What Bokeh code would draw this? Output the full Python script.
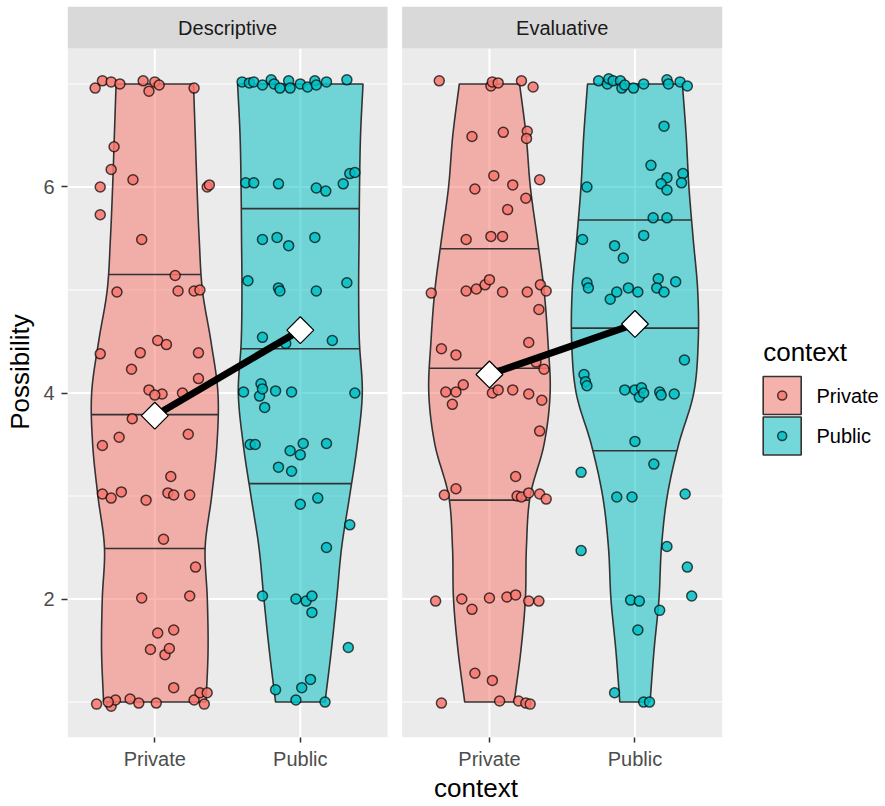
import numpy as np
from bokeh.plotting import figure
from bokeh.models import Range1d, FixedTicker
from bokeh.core.properties import value
from bokeh.embed import file_html
from bokeh.resources import INLINE

# ---------------- data ----------------
panels = ["Descriptive", "Evaluative"]
contexts = ["Private", "Public"]
fill_colors = ["#F8766D", "#00BFC4"]

# group means (diamonds)
desc_means = [3.78, 4.61]
eval_means = [4.18, 4.67]

# violin quantile lines (25%, 50%, 75%)
desc_private_q = [2.49, 3.79, 5.15]
desc_public_q = [3.12, 4.43, 5.79]
eval_private_q = [2.96, 4.24, 5.40]
eval_public_q = [3.44, 4.63, 5.68]

# violin half-widths (x units) at these response levels
violin_levels = [1.0, 1.5, 2.0, 2.5, 3.0, 3.5, 4.0, 4.5, 5.0, 5.5, 6.0, 6.5, 7.0]
desc_private_hw = [0.352, 0.366, 0.361, 0.346, 0.391, 0.427, 0.434, 0.386, 0.327, 0.305, 0.290, 0.278, 0.266]
desc_public_hw = [0.170, 0.213, 0.250, 0.284, 0.339, 0.392, 0.426, 0.406, 0.401, 0.404, 0.407, 0.414, 0.431]
eval_private_hw = [0.170, 0.216, 0.247, 0.254, 0.280, 0.375, 0.417, 0.402, 0.375, 0.329, 0.281, 0.252, 0.207]
eval_public_hw = [0.104, 0.131, 0.165, 0.182, 0.222, 0.300, 0.404, 0.435, 0.431, 0.400, 0.371, 0.352, 0.326]

# jittered points: horizontal jitter offset (x units) and response value
desc_private_jx = [-0.41, -0.36, -0.30, -0.24, -0.08, -0.04, 0.00, 0.03, 0.27,
                   -0.28, -0.30, -0.375, -0.15, 0.36, 0.375, -0.375, -0.09, 0.14, -0.26,
                   0.16, 0.27, 0.31, 0.02, 0.08, -0.375, -0.10, 0.30, -0.16,
                   -0.04, 0.05, 0.00, 0.19, 0.30, -0.155, -0.245, -0.36, 0.23, 0.11,
                   -0.36, -0.30, -0.23, -0.06, 0.09, 0.13, 0.24, 0.06, 0.28, -0.09,
                   0.24, 0.02, 0.13, -0.03, 0.07, 0.10, 0.13, -0.40, -0.30, -0.27,
                   -0.17, -0.11, 0.01, 0.27, 0.31, 0.36, 0.34, -0.32]
desc_private_y = [6.96, 7.03, 7.02, 7.00, 7.03, 6.93, 7.02, 6.99, 6.96,
                  6.39, 6.17, 6.00, 6.07, 6.00, 6.02, 5.73, 5.49, 5.14, 4.98,
                  4.99, 4.99, 5.00, 4.51, 4.47, 4.38, 4.39, 4.39, 4.23,
                  4.03, 3.99, 3.98, 4.00, 4.14, 3.75, 3.57, 3.49, 3.60, 3.19,
                  3.02, 2.98, 3.04, 2.96, 3.03, 3.01, 3.01, 2.58, 2.31, 2.01,
                  2.03, 1.67, 1.70, 1.51, 1.46, 1.52, 1.14, 0.98, 0.96, 1.02,
                  1.03, 0.99, 0.99, 1.02, 1.09, 1.09, 0.98, 1.00]

desc_public_jx = [-0.40, -0.35, -0.32, -0.26, -0.20, -0.18, -0.14, -0.08, -0.07, 0.00,
                  0.05, 0.10, 0.11, 0.18, 0.32,
                  -0.375, -0.32, -0.15, 0.11, 0.175, 0.295, 0.34, 0.375,
                  -0.26, -0.16, -0.08, 0.10, -0.36, -0.15, -0.14, 0.11, 0.32,
                  -0.26, -0.10, 0.22,
                  -0.39, -0.27, -0.28, -0.26, -0.245, -0.17, -0.06, 0.375,
                  -0.345, -0.31, -0.07, 0.00, 0.02, 0.18, -0.15, -0.06,
                  0.00, 0.12, 0.34, 0.18, -0.26, -0.03, 0.04, 0.08, 0.08,
                  0.33, -0.17, 0.01, 0.07, -0.03, 0.17]
desc_public_y = [7.02, 7.01, 7.02, 6.99, 7.04, 7.00, 6.96, 7.03, 6.96, 7.00,
                 6.97, 7.03, 6.99, 7.02, 7.04,
                 6.04, 6.04, 6.03, 5.99, 5.96, 6.03, 6.13, 6.14,
                 5.49, 5.51, 5.43, 5.51, 5.09, 5.02, 4.99, 4.99, 5.07,
                 4.54, 4.48, 4.51,
                 4.01, 4.09, 3.97, 4.04, 3.86, 4.02, 4.01, 4.00,
                 3.50, 3.50, 3.44, 3.40, 3.51, 3.51, 3.28, 3.24,
                 2.92, 2.98, 2.72, 2.50, 2.03, 2.00, 1.98, 2.03, 1.87,
                 1.53, 1.12, 1.14, 1.22, 1.02, 1.00]

eval_private_jx = [-0.345, 0.01, 0.02, 0.06, 0.22, 0.30,
                   -0.12, 0.095, 0.26, 0.255, 0.03, -0.10, 0.16, 0.345, 0.25, 0.125,
                   -0.16, 0.01, 0.09,
                   -0.40, -0.16, -0.09, -0.03, 0.00, 0.09, 0.26, 0.35, 0.39, 0.34,
                   -0.33, -0.23, 0.27, 0.32, 0.375,
                   -0.30, -0.23, -0.18, -0.255, 0.02, 0.06, 0.16, 0.27, 0.36, 0.345,
                   0.18, -0.31, -0.23, 0.19, 0.22, 0.27, 0.345, 0.39,
                   -0.37, -0.19, -0.12, 0.00, 0.12, 0.18, 0.27, 0.34,
                   -0.10, 0.02, -0.33, 0.07, 0.20, 0.25, 0.28]
eval_private_y = [7.03, 6.98, 7.02, 7.01, 7.03, 6.97,
                  6.49, 6.53, 6.54, 6.47, 6.11, 5.98, 6.02, 6.07, 5.89, 5.78,
                  5.49, 5.52, 5.52,
                  4.97, 4.99, 5.01, 5.05, 5.10, 4.98, 4.98, 5.05, 4.99, 4.81,
                  4.43, 4.37, 4.49, 4.30, 4.23,
                  4.01, 4.01, 4.08, 3.89, 4.00, 4.03, 4.03, 3.99, 3.93, 3.63,
                  3.19, 3.01, 3.07, 3.00, 2.99, 3.03, 3.02, 2.97,
                  1.98, 2.00, 1.90, 2.01, 2.02, 2.04, 1.98, 1.98,
                  1.28, 1.21, 0.99, 1.01, 1.01, 0.99, 0.98]

eval_public_jx = [-0.25, -0.19, -0.18, -0.15, -0.10, -0.09, -0.07, -0.01, 0.06, 0.22,
                  0.23, 0.31, 0.36,
                  0.20, 0.11, 0.22, 0.18, 0.22, 0.33, 0.32, -0.33, 0.125, 0.22,
                  0.06, -0.36, -0.14, -0.08, -0.33, -0.32, -0.17, -0.125, -0.045, 0.02,
                  0.16, 0.15, 0.20, 0.28, 0.34, -0.35,
                  -0.34, -0.33, -0.07, 0.00, 0.045, 0.03, 0.06, 0.17, 0.18, 0.27,
                  0.00, 0.13, -0.37, -0.125, -0.02, 0.345, -0.37, 0.22, 0.36, 0.39,
                  -0.03, 0.03, 0.17, 0.02, -0.14, 0.06, 0.10]
eval_public_y = [7.03, 7.00, 7.05, 7.03, 7.03, 6.96, 6.99, 6.96, 7.00, 7.04,
                 7.00, 7.02, 6.98,
                 6.59, 6.21, 6.09, 6.03, 5.97, 6.13, 6.04, 6.00, 5.70, 5.70,
                 5.53, 5.49, 5.43, 5.31, 5.07, 5.02, 4.91, 4.98, 5.02, 4.98,
                 5.11, 5.02, 4.98, 5.08, 4.32, 4.18,
                 4.11, 4.07, 4.03, 4.03, 4.05, 3.96, 4.00, 4.01, 3.98, 3.99,
                 3.53, 3.31, 3.23, 2.99, 2.99, 3.02, 2.47, 2.51, 2.31, 2.03,
                 1.99, 1.98, 1.89, 1.70, 1.09, 1.00, 1.00]

y_ticks = [2, 4, 6]
y_minor = [1, 3, 5, 7]

# ---------------- layout constants ----------------
FONT = "Liberation Sans"
PANEL_SHIFT = 2.3          # x offset of second facet (2.2 wide + gap)
X0 = 0.4                   # left edge of first facet
PX_PER_X = 145.5
BORDER_L = 67
BORDER_T = 6
FRAME_W = 817
FRAME_H = 731
STRIP_PX = 42
Y_LO, Y_HI = 0.656, 7.344
PX_PER_Y = (FRAME_H - STRIP_PX) / (Y_HI - Y_LO)
Y_TOP = Y_HI + STRIP_PX / PX_PER_Y
X_END = X0 + FRAME_W / PX_PER_X


def sx(px):   # page pixel -> data x
    return X0 + (px - BORDER_L) / PX_PER_X


def sy(py):   # page pixel -> data y
    return Y_TOP - (py - BORDER_T) / PX_PER_Y


def smooth_profile(levels, hw, n=14):
    L = np.asarray(levels, float)
    H = np.asarray(hw, float)
    Hp = np.concatenate([[2 * H[0] - H[1]], H, [2 * H[-1] - H[-2]]])
    ys, hs = [], []
    t = np.linspace(0, 1, n, endpoint=False)
    for j in range(len(L) - 1):
        p0, p1, p2, p3 = Hp[j], Hp[j + 1], Hp[j + 2], Hp[j + 3]
        h = 0.5 * (2 * p1 + (-p0 + p2) * t + (2 * p0 - 5 * p1 + 4 * p2 - p3) * t ** 2
                   + (-p0 + 3 * p1 - 3 * p2 + p3) * t ** 3)
        ys.append(L[j] + (L[j + 1] - L[j]) * t)
        hs.append(h)
    ys.append([L[-1]])
    hs.append([H[-1]])
    return np.concatenate(ys), np.concatenate(hs)


p = figure(frame_width=FRAME_W, frame_height=FRAME_H,
           x_range=Range1d(X0, X_END), y_range=Range1d(Y_LO, Y_TOP),
           output_backend="svg", toolbar_location=None,
           min_border_left=BORDER_L, min_border_right=0, min_border_top=BORDER_T,
           min_border_bottom=62,
           background_fill_color="white", border_fill_color="white",
           outline_line_color=None)
p.grid.visible = False

# panels, grid, strips
for k, name in enumerate(panels):
    off = k * PANEL_SHIFT
    left, right = X0 + off, X0 + 2.2 + off
    p.quad(left=left, right=right, bottom=Y_LO, top=Y_HI, fill_color="#EBEBEB", line_color=None)
    p.segment(x0=[left] * len(y_minor), x1=[right] * len(y_minor), y0=y_minor, y1=y_minor,
              line_color="white", line_width=1.0)
    p.segment(x0=[left] * len(y_ticks), x1=[right] * len(y_ticks), y0=y_ticks, y1=y_ticks,
              line_color="white", line_width=2.0)
    cats = [i + 1 + off for i in range(len(contexts))]
    p.segment(x0=cats, x1=cats, y0=[Y_LO] * len(cats), y1=[Y_HI] * len(cats),
              line_color="white", line_width=2.0)
    p.quad(left=left, right=right, bottom=Y_HI, top=Y_TOP, fill_color="#D9D9D9", line_color=None)
    p.text(x=[(left + right) / 2], y=[(Y_HI + Y_TOP) / 2], text=[name],
           text_font=value(FONT), text_font_size="20px", text_color="#1A1A1A",
           text_align="center", text_baseline="middle")

groups = [
    (0, 0, desc_private_hw, desc_private_q, desc_private_jx, desc_private_y),
    (0, 1, desc_public_hw, desc_public_q, desc_public_jx, desc_public_y),
    (1, 0, eval_private_hw, eval_private_q, eval_private_jx, eval_private_y),
    (1, 1, eval_public_hw, eval_public_q, eval_public_jx, eval_public_y),
]

VIOLIN_ALPHA = 0.52

# violins + quantile lines
for k, c, hw, qs, jx, jy in groups:
    cx = c + 1 + k * PANEL_SHIFT
    yy, hh = smooth_profile(violin_levels, hw)
    xs = np.concatenate([cx + hh, (cx - hh)[::-1]])
    ys = np.concatenate([yy, yy[::-1]])
    p.patch(xs, ys, fill_color=fill_colors[c], fill_alpha=VIOLIN_ALPHA,
            line_color="#333333", line_width=1.6)
    qh = np.interp(qs, yy, hh)
    p.segment(x0=cx - qh, x1=cx + qh, y0=qs, y1=qs, line_color="#333333", line_width=1.6)

# jittered points
for k, c, hw, qs, jx, jy in groups:
    cx = c + 1 + k * PANEL_SHIFT
    p.scatter(x=cx + np.asarray(jx), y=jy, size=10, marker="circle",
              fill_color=fill_colors[c], fill_alpha=0.85,
              line_color="black", line_alpha=0.7, line_width=1.5)

# mean lines and diamonds
for k, m in enumerate([desc_means, eval_means]):
    xs = [i + 1 + k * PANEL_SHIFT for i in range(len(contexts))]
    p.line(xs, m, line_color="black", line_width=7)
    p.scatter(xs, m, marker="square", angle=np.pi / 4, size=19,
              fill_color="white", line_color="black", line_width=1.2)

# axes
tick_pos = [i + 1 + k * PANEL_SHIFT for k in range(len(panels)) for i in range(len(contexts))]
tick_lab = {t: contexts[j % len(contexts)] for j, t in enumerate(tick_pos)}
xa = p.xaxis[0]
xa.ticker = FixedTicker(ticks=tick_pos, minor_ticks=[])
xa.major_label_overrides = tick_lab
xa.axis_label = "context"
ya = p.yaxis[0]
ya.ticker = FixedTicker(ticks=y_ticks, minor_ticks=[])
ya.axis_label = "Possibility"
for ax in (xa, ya):
    ax.axis_line_color = None
    ax.major_tick_line_color = "#333333"
    ax.major_tick_line_width = 1.5
    ax.major_tick_in = 0
    ax.minor_tick_line_color = None
    ax.major_label_text_font = FONT
    ax.major_label_text_font_size = "20px"
    ax.major_label_text_color = "#4D4D4D"
    ax.axis_label_text_font = FONT
    ax.axis_label_text_font_size = "26px"
    ax.axis_label_text_font_style = "normal"
    ax.axis_label_text_color = "black"
xa.major_tick_out = 5
xa.major_label_standoff = 5
xa.axis_label_standoff = 0
ya.major_tick_out = 6
ya.major_label_standoff = 7
ya.axis_label_standoff = 5

# legend (drawn in the free area right of the facets)
lx = sx(762.7)
key = 38 / PX_PER_X
p.text(x=[lx], y=[sy(351)], text=["context"], text_font=value(FONT),
       text_font_size="26px", text_color="black", text_align="left", text_baseline="middle")
for c, name in enumerate(contexts):
    top_px = 376 + c * 40.5
    p.quad(left=lx, right=lx + key, top=sy(top_px), bottom=sy(top_px + 38),
           fill_color="#F2F2F2", line_color=None)
    p.quad(left=lx, right=lx + key, top=sy(top_px), bottom=sy(top_px + 38),
           fill_color=fill_colors[c], fill_alpha=VIOLIN_ALPHA, line_color="#333333", line_width=1.6)
    p.scatter(x=[lx + key / 2], y=[sy(top_px + 19)], size=9, marker="circle",
              fill_color=fill_colors[c], fill_alpha=0.85,
              line_color="black", line_alpha=0.7, line_width=1.5)
    p.text(x=[sx(816)], y=[sy(top_px + 19)], text=[name], text_font=value(FONT),
           text_font_size="20px", text_color="black", text_align="left", text_baseline="middle")

open("out.html", "w").write(file_html(p, INLINE))
